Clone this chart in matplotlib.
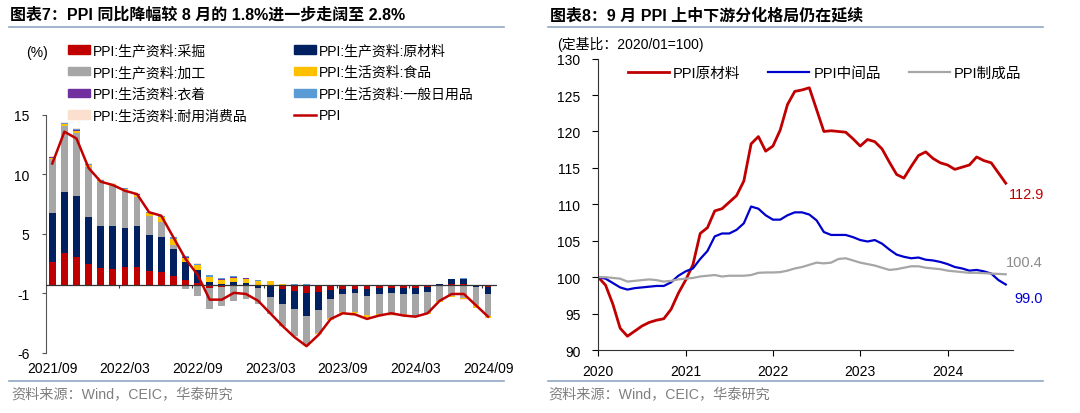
import numpy as np
import pandas as pd
import matplotlib.pyplot as plt
from matplotlib.patches import Patch
from matplotlib.lines import Line2D

plt.rcParams['font.family'] = ['Liberation Sans', 'Noto Sans CJK SC', 'DejaVu Sans']
plt.rcParams['axes.unicode_minus'] = False

# ---- left chart data: PPI yoy and contributions (2021/09 - 2024/09)
months = pd.period_range('2021-09', '2024-09', freq='M')
mining = [2.05, 2.8, 2.5, 1.85, 1.45, 1.38, 1.6, 1.6, 1.25, 1.15, 0.8, 0.45, 0.2,
          -0.25, -0.15, 0.0, 0.0, -0.05, -0.1, -0.4, -0.5, -0.7, -0.6, -0.45, -0.35,
          -0.35, -0.35, -0.3, -0.3, -0.3, -0.3, -0.2, 0.0, 0.05, 0.05, -0.05, -0.15]
raw = [4.25, 5.35, 5.3, 4.1, 3.7, 3.77, 3.45, 3.6, 3.15, 3.1, 2.35, 1.55, 1.1,
       0.25, 0.12, 0.28, 0.15, -0.25, -1.0, -1.3, -1.6, -2.0, -1.6, -0.8, -0.45,
       -0.4, -0.6, -0.5, -0.45, -0.5, -0.5, -0.4, 0.1, 0.45, 0.5, -0.15, -0.65]
process = [4.8, 5.85, 5.6, 4.4, 3.9, 3.6, 3.25, 2.55, 1.7, 1.25, 0.4, -0.35, -1.0,
           -1.9, -1.75, -1.45, -1.25, -1.4, -1.45, -1.95, -2.4, -2.5, -2.0, -1.7, -1.55,
           -1.6, -1.7, -1.8, -1.8, -1.75, -1.9, -1.9, -1.45, -1.0, -1.15, -1.6, -1.95]
food = [0.1, 0.15, 0.2, 0.2, 0.1, 0.1, 0.12, 0.2, 0.25, 0.45, 0.5, 0.4, 0.45,
        0.45, 0.35, 0.35, 0.4, 0.35, 0.3, 0.05, 0.0, -0.1, -0.15, -0.1, -0.2,
        -0.15, -0.2, -0.15, -0.1, -0.1, -0.1, -0.05, -0.05, -0.05, -0.1, -0.2, -0.15]
clothing = [0.03] * 16 + [0.02] * 6 + [0.0] * 15
daily = [0.05, 0.1, 0.1, 0.1, 0.1, 0.05, 0.05, 0.05, 0.05, 0.08, 0.1, 0.1, 0.1,
         0.15, 0.08, 0.12, 0.05, 0.05, 0.03, 0.02, 0.02, 0.02, 0.02, 0.02, 0.02,
         0.02, 0.02, 0.02, 0.02, 0.02, 0.02, 0.02, 0.02, 0.02, 0.02, 0.02, 0.02]
durable = [0.05, 0.1, 0.1, 0.05, 0.05, 0.05, 0.03, 0.03, 0.03, 0.03, 0.03, 0.03, 0.03,
           0.03, 0.03, 0.03, 0.03, 0.03, 0.0, -0.05, -0.05, -0.05, -0.05, -0.05, -0.05,
           -0.05, -0.05, -0.05, -0.05, -0.05, -0.05, -0.05, -0.05, -0.05, -0.05, -0.05, -0.05]
ppi = [10.7, 13.5, 12.9, 10.3, 9.1, 8.8, 8.3, 8.0, 6.4, 6.1, 4.2, 2.3, 0.9,
       -1.3, -1.3, -0.7, -0.8, -1.4, -2.5, -3.6, -4.6, -5.4, -4.4, -3.0, -2.5,
       -2.6, -3.0, -2.7, -2.5, -2.7, -2.8, -2.5, -1.4, -0.8, -0.8, -1.8, -2.8]

comp_names = ['PPI:生产资料:采掘', 'PPI:生产资料:原材料', 'PPI:生产资料:加工',
              'PPI:生活资料:食品', 'PPI:生活资料:衣着', 'PPI:生活资料:一般日用品',
              'PPI:生活资料:耐用消费品']
comp_colors = ['#C00000', '#002060', '#A6A6A6', '#FFC000', '#7030A0', '#5B9BD5', '#FBE0D0']
comps = [mining, raw, process, food, clothing, daily, durable]

# ---- right chart data: fixed-base index 2020/01=100 (2020/01 - 2024/09)
raw_idx = [100.0, 98.9, 96.3, 93.0, 91.9, 92.6, 93.3, 93.8, 94.1, 94.3, 95.6, 97.8,
           99.6, 101.7, 106.0, 106.8, 109.1, 109.4, 110.3, 111.2, 113.2, 118.3, 119.3, 117.3,
           118.0, 120.2, 123.7, 125.5, 125.7, 126.0, 123.0, 120.0, 120.1, 120.0, 119.9, 119.0,
           118.0, 118.9, 118.6, 117.6, 115.8, 114.1, 113.6, 115.2, 116.7, 117.2, 116.3, 115.7,
           115.4, 114.8, 115.1, 115.4, 116.5, 116.0, 115.7, 114.3, 112.9]
mid_idx = [100.0, 99.8, 99.2, 98.6, 98.3, 98.5, 98.6, 98.7, 98.8, 98.8, 99.3, 100.2,
           100.8, 101.2, 102.5, 103.6, 105.6, 106.0, 106.0, 106.5, 107.4, 109.7, 109.4, 108.5,
           107.9, 107.9, 108.5, 108.9, 108.9, 108.6, 107.8, 106.2, 105.8, 105.8, 105.8, 105.5,
           105.1, 104.9, 105.1, 104.6, 103.8, 103.1, 102.8, 102.6, 102.7, 102.4, 102.3, 102.1,
           101.8, 101.4, 101.2, 100.9, 101.0, 100.8, 100.5, 99.6, 99.0]
fin_idx = [100.0, 100.0, 99.9, 99.8, 99.4, 99.5, 99.6, 99.7, 99.6, 99.4, 99.5, 99.7,
           99.8, 99.9, 100.1, 100.2, 100.3, 100.1, 100.2, 100.2, 100.2, 100.3, 100.6, 100.65,
           100.65, 100.7, 100.9, 101.2, 101.4, 101.7, 102.0, 101.9, 102.0, 102.5, 102.6, 102.3,
           102.0, 101.8, 101.6, 101.3, 101.0, 101.1, 101.3, 101.5, 101.5, 101.3, 101.2, 101.1,
           100.9, 100.8, 100.7, 100.6, 100.6, 100.55, 100.5, 100.45, 100.4]
years = ['2020', '2021', '2022', '2023', '2024']

fig = plt.figure(figsize=(10.8, 4.14), dpi=100)
rule_c = '#8FA8C3'
src_c = '#7F7F7F'

# titles, rules, sources
fig.text(0.009, 0.963, '图表7：PPI 同比降幅较 8 月的 1.8%进一步走阔至 2.8%',
         fontsize=11.5, fontweight='bold', va='center')
fig.text(0.509, 0.963, '图表8：9 月 PPI 上中下游分化格局仍在延续',
         fontsize=11.5, fontweight='bold', va='center')
for x0, x1 in [(0.008, 0.467), (0.507, 0.966)]:
    fig.add_artist(Line2D([x0, x1], [0.933, 0.933], color=rule_c, lw=1.2))
    fig.add_artist(Line2D([x0, x1], [0.077, 0.077], color=rule_c, lw=1.2))
fig.text(0.010, 0.045, '资料来源：Wind，CEIC，华泰研究', fontsize=10.2, color=src_c, va='center')
fig.text(0.508, 0.045, '资料来源：Wind，CEIC，华泰研究', fontsize=10.2, color=src_c, va='center')

# ---- left chart
ax = fig.add_axes([0.0426, 0.145, 0.4174, 0.5755])
x = np.arange(len(months))
pos_base = np.zeros(len(x))
neg_base = np.zeros(len(x))
for vals, c in zip(comps, comp_colors):
    v = np.array(vals)
    p = np.where(v > 0, v, 0)
    n = np.where(v < 0, v, 0)
    ax.bar(x, p, 0.56, bottom=pos_base, color=c, lw=0)
    ax.bar(x, n, 0.56, bottom=neg_base, color=c, lw=0)
    pos_base += p
    neg_base += n
ax.plot(x, ppi, color='#C00000', lw=1.8, zorder=5)
ax.axhline(0, color='#333333', lw=0.9, zorder=4)
ax.set_xlim(-0.52, 36.72)
ax.set_ylim(-6, 15)
ax.set_yticks(np.linspace(-6, 15, 5))
ax.set_yticklabels(['-6', '-1', '5', '10', '15'])
tick_pos = x[::6]
ax.set_xticks(tick_pos)
ax.set_xticklabels([m.strftime('%Y/%m') for m in months[::6]])
ax.vlines(tick_pos[1:] - 0.5, -0.3, 0, color='#333333', lw=0.8)
for s in ['top', 'right', 'bottom']:
    ax.spines[s].set_visible(False)
ax.spines['left'].set_color('#555555')
ax.tick_params(axis='y', direction='out', length=3, labelsize=10, colors='#555555',
               labelcolor='black', pad=9)
ax.tick_params(axis='x', length=0, labelsize=10, pad=6)
fig.text(0.024, 0.872, '(%)', fontsize=10, va='center')

handles = [Patch(color=c) for c in comp_colors] + [Line2D([], [], color='#C00000', lw=1.8)]
labels = comp_names + ['PPI']
order = [0, 2, 4, 6, 1, 3, 5, 7]
fig.legend([handles[i] for i in order], [labels[i] for i in order], ncol=2,
           loc='upper left', bbox_to_anchor=(0.058, 0.906), frameon=False,
           fontsize=10, handlelength=1.6, handleheight=0.55, handletextpad=0.2,
           columnspacing=3.3, labelspacing=0.55, borderaxespad=0)

# ---- right chart
ax2 = fig.add_axes([0.554, 0.152, 0.384, 0.704])
t = np.arange(len(raw_idx))
ax2.plot(t, raw_idx, color='#C00000', lw=2.0, label='PPI原材料')
ax2.plot(t, mid_idx, color='#0000CC', lw=1.6, label='PPI中间品')
ax2.plot(t, fin_idx, color='#A6A6A6', lw=1.6, label='PPI制成品')
ax2.set_xlim(0, 57)
ax2.set_ylim(90, 130)
ax2.set_yticks(np.arange(90, 131, 5))
ax2.set_xticks(np.arange(0, len(t), 12))
ax2.set_xticklabels(years)
for s in ['top', 'right']:
    ax2.spines[s].set_visible(False)
for s in ['left', 'bottom']:
    ax2.spines[s].set_color('#333333')
ax2.tick_params(direction='out', length=4, labelsize=10)
ax2.tick_params(axis='y', pad=9)
ax2.tick_params(axis='x', pad=6)
ax2.legend(loc='upper left', bbox_to_anchor=(0.04, 1.02), ncol=3, frameon=False,
           fontsize=10.5, handlelength=2.8, handletextpad=0.3, columnspacing=1.9)
ax2.annotate(f'{raw_idx[-1]:.1f}', (t[-1], raw_idx[-1]), xytext=(2, -8),
             textcoords='offset points', color='#C00000', fontsize=10.5, va='center')
ax2.annotate(f'{fin_idx[-1]:.1f}', (t[-1], fin_idx[-1]), xytext=(0, 9),
             textcoords='offset points', color='#8C8C8C', fontsize=10.5, va='center')
ax2.annotate(f'{mid_idx[-1]:.1f}', (t[-1], mid_idx[-1]), xytext=(6, -10),
             textcoords='offset points', color='#0000CC', fontsize=10.5, va='center')
fig.text(0.516, 0.893, '(定基比：2020/01=100)', fontsize=10, va='center')

fig.savefig('out.png', dpi=100)
